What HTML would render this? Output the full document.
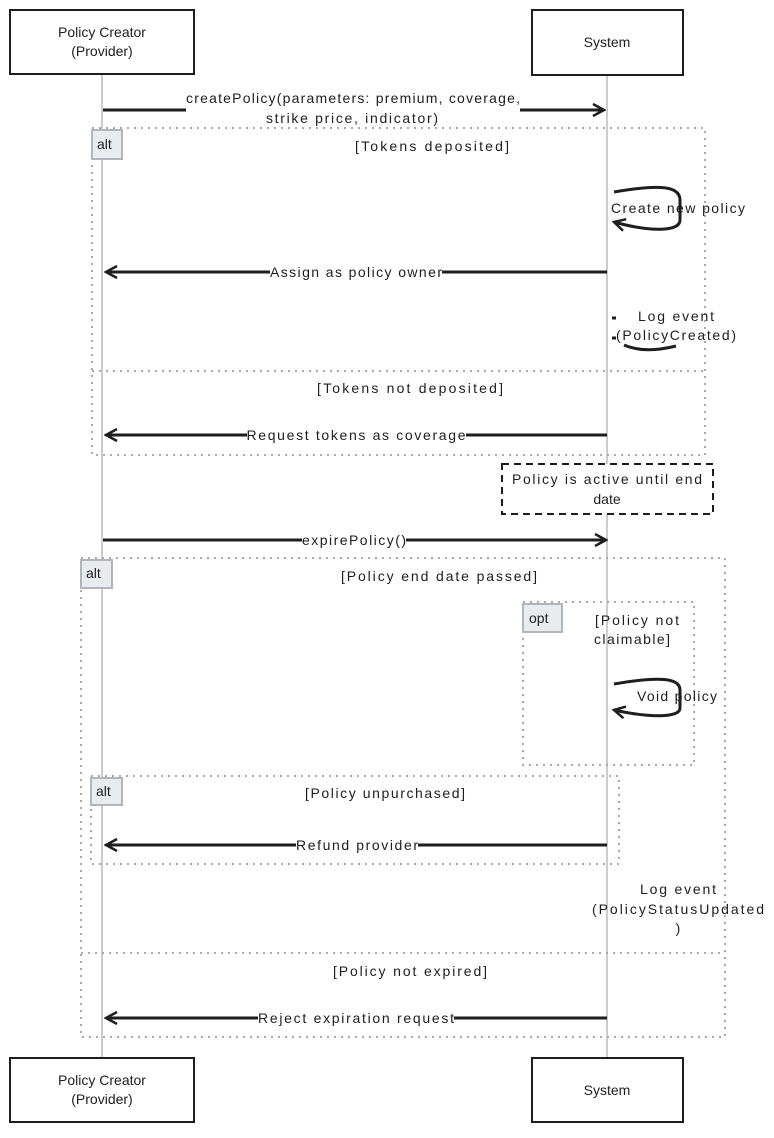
<!DOCTYPE html>
<html><head><meta charset="utf-8"><style>
body{margin:0;background:#fff}
text{font-family:"Liberation Sans",sans-serif;font-size:14px;fill:#1e1e1e}
</style></head><body>
<svg width="774" height="1133" viewBox="0 0 774 1133" xmlns="http://www.w3.org/2000/svg">
<defs>
<marker id="a" markerWidth="14" markerHeight="14" refX="12" refY="7" orient="auto" markerUnits="userSpaceOnUse">
<path d="M1,1 L12,7 L1,13" fill="none" stroke="#1e1e1e" stroke-width="2.5"/>
</marker>
</defs>
<line x1="102" y1="75" x2="102" y2="1058" stroke="#999" stroke-width="1"/>
<line x1="607" y1="75" x2="607" y2="1058" stroke="#999" stroke-width="1"/>
<g fill="#fff" stroke="#1e1e1e" stroke-width="2">
<rect x="10" y="10" width="184" height="64"/>
<rect x="532" y="10" width="151" height="65"/>
<rect x="10" y="1058" width="184" height="64"/>
<rect x="532" y="1058" width="151" height="64"/>
</g>
<g text-anchor="middle">
<text x="102" y="37">Policy Creator</text><text x="102" y="56">(Provider)</text>
<text x="607" y="47">System</text>
<text x="102" y="1085">Policy Creator</text><text x="102" y="1104">(Provider)</text>
<text x="607" y="1095">System</text>
</g>
<g fill="none" stroke="#aaa" stroke-width="2" stroke-dasharray="2,5">
<rect x="92" y="128" width="613" height="327"/>
<line x1="92" y1="371" x2="705" y2="371"/>
<rect x="81" y="558" width="644" height="479"/>
<line x1="81" y1="953" x2="725" y2="953"/>
<rect x="523" y="602" width="171" height="163"/>
<rect x="91" y="776" width="528" height="88"/>
</g>
<g fill="#e9ecef" stroke="#b0b6bc" stroke-width="2">
<rect x="92" y="130" width="30" height="29"/>
<rect x="81" y="560" width="31" height="28"/>
<rect x="523" y="604" width="39" height="28"/>
<rect x="91" y="778" width="31" height="27"/>
</g>
<text x="97" y="149">alt</text>
<text x="86" y="578">alt</text>
<text x="529" y="623">opt</text>
<text x="96" y="796">alt</text>
<rect x="502" y="464" width="211" height="50" fill="#fff" stroke="#1e1e1e" stroke-width="2" stroke-dasharray="7,5"/>
<g text-anchor="middle">
<text x="607" y="484" textLength="190">Policy is active until end</text>
<text x="607" y="504">date</text>
<text x="432" y="151" textLength="154">[Tokens deposited]</text>
<text x="410" y="393" textLength="186">[Tokens not deposited]</text>
<text x="439" y="581" textLength="196">[Policy end date passed]</text>
<text x="637" y="625" textLength="84">[Policy not</text>
<text x="632" y="644" textLength="76">claimable]</text>
<text x="385" y="798" textLength="160">[Policy unpurchased]</text>
<text x="410" y="976" textLength="154">[Policy not expired]</text>
<text x="676" y="321" textLength="76">Log event</text>
<text x="676" y="340" textLength="120">(PolicyCreated)</text>
<text x="678" y="894" textLength="76">Log event</text>
<text x="678" y="914" textLength="172">(PolicyStatusUpdated</text>
<text x="678" y="933">)</text>
</g>
<g stroke="#1e1e1e" stroke-width="3" fill="none">
<line x1="103" y1="110" x2="186" y2="110"/>
</g>
<g stroke="#1e1e1e" stroke-width="3" fill="none" marker-end="url(#a)">
<line x1="520" y1="110" x2="604" y2="110"/>
<line x1="607" y1="272" x2="106" y2="272"/>
<line x1="607" y1="435" x2="106" y2="435"/>
<line x1="103" y1="540" x2="606" y2="540"/>
<line x1="607" y1="845" x2="106" y2="845"/>
<line x1="607" y1="1018" x2="106" y2="1018"/>
<path d="M614,192 C660,184 680,186 680,200 L680,220 C680,232 650,232 614,222"/>
<path d="M614,684 C660,676 680,678 680,690 L680,708 C680,718 650,718 614,710"/>
</g>
<g stroke="#1e1e1e" stroke-width="3" fill="none">
<path d="M612,318 L616,318"/>
<path d="M612,338 L616,338"/>
<path d="M624,345 C640,352 660,350 676,346"/>
</g>
<g fill="#fff">
<rect x="270" y="262" width="172" height="18"/>
<rect x="247" y="425" width="219" height="18"/>
<rect x="302" y="530" width="104" height="18"/>
<rect x="296" y="835" width="122" height="18"/>
<rect x="258" y="1008" width="196" height="18"/>
</g>
<g text-anchor="middle">
<text x="353" y="103" textLength="334">createPolicy(parameters: premium, coverage,</text>
<text x="352" y="123" textLength="172">strike price, indicator)</text>
<text x="356" y="277" textLength="172">Assign as policy owner</text>
<text x="356" y="440" textLength="219">Request tokens as coverage</text>
<text x="354" y="545" textLength="104">expirePolicy()</text>
<text x="357" y="850" textLength="122">Refund provider</text>
<text x="356" y="1023" textLength="196">Reject expiration request</text>
<text x="678" y="213" textLength="134">Create new policy</text>
<text x="677" y="701" textLength="80">Void policy</text>
</g>
</svg>
</body></html>
